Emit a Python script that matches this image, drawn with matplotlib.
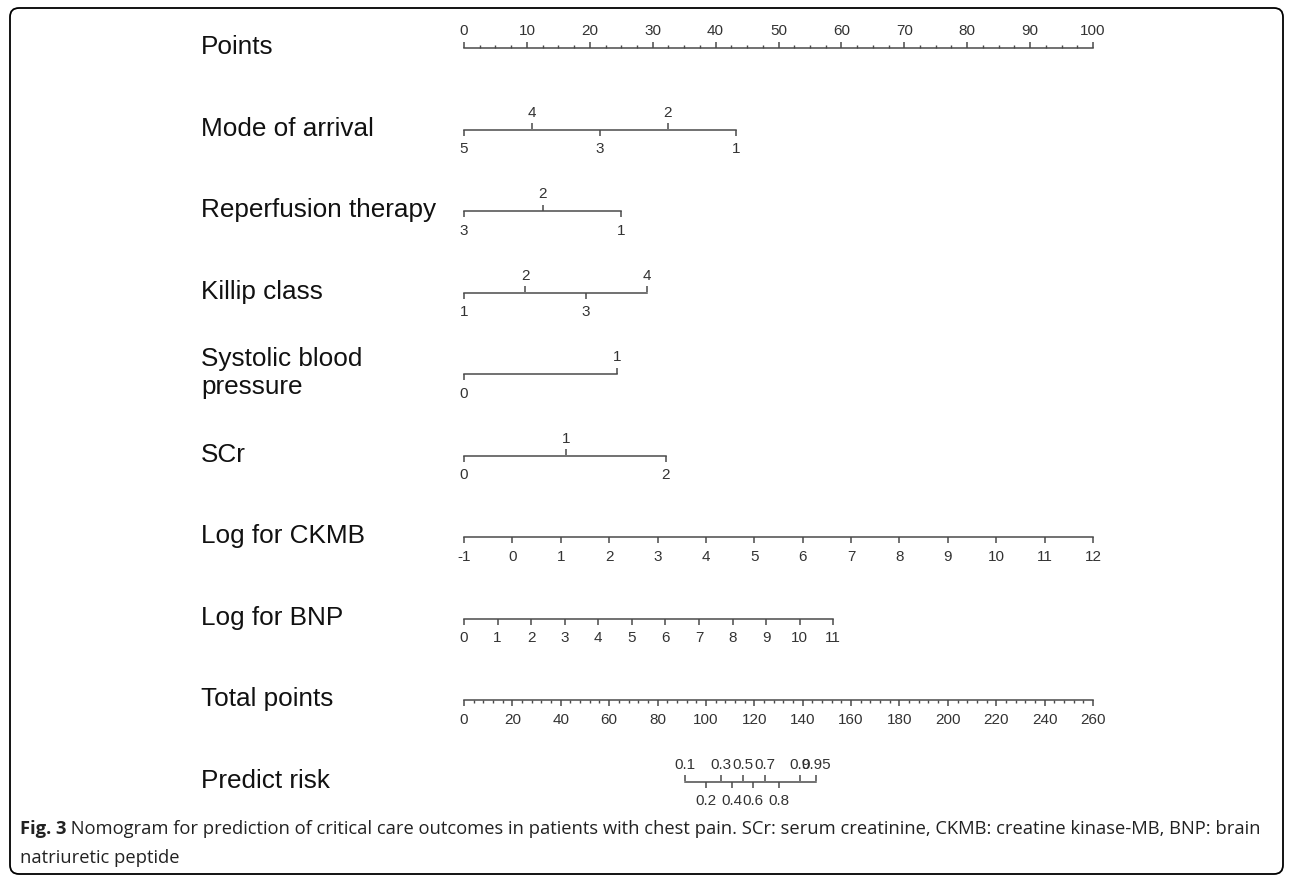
import matplotlib
matplotlib.use('Agg')
import matplotlib.pyplot as plt
import numpy as np
from matplotlib.patches import FancyBboxPatch

plt.rcParams['font.family'] = ['Liberation Sans', 'DejaVu Sans']

# nomogram rows, values (positions in "points" 0-100)
row_labels = ['Points', 'Mode of arrival', 'Reperfusion therapy', 'Killip class',
              'Systolic blood\npressure', 'SCr', 'Log for CKMB', 'Log for BNP',
              'Total points', 'Predict risk']

points_major = np.arange(0, 101, 10)
points_minor = np.arange(0, 100.1, 2.5)

mode_labels = ['5', '4', '3', '2', '1']
mode_points = [0, 10.8, 21.6, 32.4, 43.2]
mode_sides = ['b', 't', 'b', 't', 'b']

reperf_labels = ['3', '2', '1']
reperf_points = [0, 12.5, 25.0]
reperf_sides = ['b', 't', 'b']

killip_labels = ['1', '2', '3', '4']
killip_points = [0, 9.7, 19.4, 29.1]
killip_sides = ['b', 't', 'b', 't']

sbp_labels = ['0', '1']
sbp_points = [0, 24.3]
sbp_sides = ['b', 't']

scr_labels = ['0', '1', '2']
scr_points = [0, 16.2, 32.1]
scr_sides = ['b', 't', 'b']

ckmb_values = np.arange(-1, 13)
ckmb_ends = [0, 100]          # points at -1 and 12
bnp_values = np.arange(0, 12)
bnp_ends = [0, 58.7]          # points at 0 and 11

total_major = np.arange(0, 261, 20)
total_minor = np.arange(0, 261, 4)
total_max = 260

risk_labels = ['0.1', '0.2', '0.3', '0.4', '0.5', '0.6', '0.7', '0.8', '0.9', '0.95']
risk_total = [91.4, 100.2, 106.1, 110.8, 115.3, 119.6, 124.4, 130.0, 139.0, 145.5]
risk_sides = ['t', 'b', 't', 'b', 't', 'b', 't', 'b', 't', 't']

caption_bold = 'Fig. 3'
caption_1 = (' Nomogram for prediction of critical care outcomes in patients with chest pain. '
             'SCr: serum creatinine, CKMB: creatine kinase-MB, BNP: brain')
caption_2 = 'natriuretic peptide'

W, H = 1292, 877
fig = plt.figure(figsize=(W / 100, H / 100), dpi=100)

# rounded frame round the whole figure
bg = fig.add_axes([0, 0, 1, 1])
bg.set_xlim(0, W)
bg.set_ylim(H, 0)
bg.axis('off')
bg.add_patch(FancyBboxPatch((10, 8), 1273, 866, boxstyle='round,pad=0,rounding_size=9',
                            fc='none', ec='black', lw=1.3))

line_c = '#4a4a4a'
txt_c = '#333333'
tick_font = ['Liberation Sans Narrow', 'Liberation Sans', 'DejaVu Sans']
x0, xw = 464 / W, 629 / W
top_px, step_px = 48.3, 81.5


def row_axes(i):
    y = 1 - (top_px + step_px * i) / H
    ax = fig.add_axes([x0, y, xw, 0.5 / H])
    ax.set_xlim(0, 100)
    ax.patch.set_visible(False)
    for s in ['left', 'right', 'top']:
        ax.spines[s].set_visible(False)
    ax.spines['bottom'].set_color(line_c)
    ax.spines['bottom'].set_linewidth(1.1)
    ax.set_yticks([])
    fig.text(201 / W, y + 1 / H, row_labels[i], fontsize=18.8, va='center', ha='left',
             color='#111111', linespacing=1.2)
    return ax


tick_kw = dict(direction='out', length=4, width=1.1, color=line_c,
               labelcolor=txt_c, labelsize=11)


def set_font(a):
    for t in a.get_xticklabels():
        t.set_family(tick_font)


def draw_scale(ax, pos, labels, sides, minor=None):
    ax.spines['bottom'].set_bounds(min(pos), max(pos))
    bp = [p for p, s in zip(pos, sides) if s == 'b']
    bl = [l for l, s in zip(labels, sides) if s == 'b']
    tp = [p for p, s in zip(pos, sides) if s == 't']
    tl = [l for l, s in zip(labels, sides) if s == 't']
    ax.set_xticks(bp, bl)
    set_font(ax)
    ax.tick_params(axis='x', which='major', pad=5, **tick_kw)
    if minor is not None and not tp:
        ax.set_xticks(minor, minor=True)
        ax.tick_params(axis='x', which='minor', direction='out', length=2,
                       width=1.0, color=line_c)
    if tp:
        sec = ax.secondary_xaxis('top')
        sec.spines['top'].set_visible(False)
        sec.set_xticks(tp, tl)
        set_font(sec)
        sec.tick_params(axis='x', which='major', pad=3, **tick_kw)
        if minor is not None:
            sec.set_xticks(minor, minor=True)
            sec.tick_params(axis='x', which='minor', direction='out', length=2,
                            width=1.0, color=line_c)


ax = row_axes(0)
draw_scale(ax, points_major, [str(v) for v in points_major], ['t'] * len(points_major),
           minor=points_minor)

draw_scale(row_axes(1), mode_points, mode_labels, mode_sides)
draw_scale(row_axes(2), reperf_points, reperf_labels, reperf_sides)
draw_scale(row_axes(3), killip_points, killip_labels, killip_sides)
draw_scale(row_axes(4), sbp_points, sbp_labels, sbp_sides)
draw_scale(row_axes(5), scr_points, scr_labels, scr_sides)

ckmb_pos = np.interp(ckmb_values, [ckmb_values[0], ckmb_values[-1]], ckmb_ends)
draw_scale(row_axes(6), ckmb_pos, [str(v) for v in ckmb_values], ['b'] * len(ckmb_values))

bnp_pos = np.interp(bnp_values, [bnp_values[0], bnp_values[-1]], bnp_ends)
draw_scale(row_axes(7), bnp_pos, [str(v) for v in bnp_values], ['b'] * len(bnp_values))

draw_scale(row_axes(8), total_major * 100 / total_max, [str(v) for v in total_major],
           ['b'] * len(total_major), minor=total_minor * 100 / total_max)

draw_scale(row_axes(9), np.array(risk_total) * 100 / total_max, risk_labels, risk_sides)

# caption
t1 = fig.text(20 / W, 1 - 834 / H, caption_bold, fontsize=13.2, weight='bold',
              family='Open Sans', va='baseline', color='#222222')
bg.annotate(caption_1, xy=(1, 0), xycoords=t1, va='bottom', ha='left',
            fontsize=13.2, family='Open Sans', color='#222222')
fig.text(20 / W, 1 - 863 / H, caption_2, fontsize=13.2, family='Open Sans',
         va='baseline', color='#222222')

fig.savefig('out.png', dpi=100)
